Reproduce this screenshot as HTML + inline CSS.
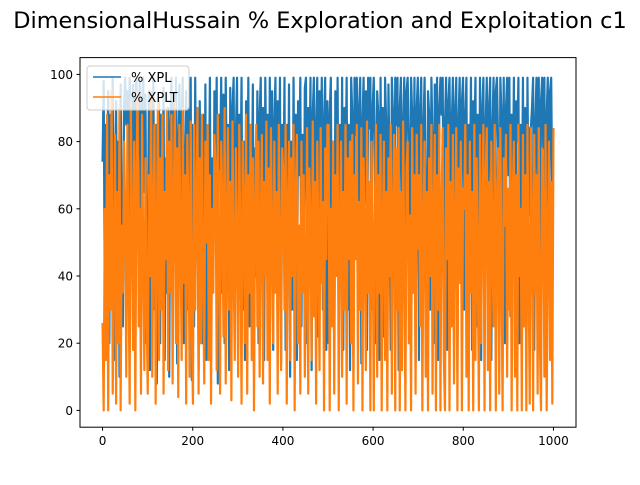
<!DOCTYPE html>
<html><head><meta charset="utf-8"><style>
body{margin:0;background:#fff}
svg text{font-family:"DejaVu Sans","Liberation Sans",sans-serif}
</style></head><body>
<svg id="chart" width="640" height="480" xmlns="http://www.w3.org/2000/svg">
<rect width="640" height="480" fill="#fff"/>
<text x="320" y="28" text-anchor="middle" font-size="22.4">DimensionalHussain % Exploration and Exploitation c1</text>
<g id="series"></g>
<rect x="80" y="57.6" width="496" height="369.6" fill="none" stroke="#000" stroke-width="1"/>
<g id="ticks"></g>
<g>
<rect x="87" y="66" width="102" height="44" rx="3" fill="#fff" fill-opacity="0.8" stroke="#ccc"/>
<line x1="93" y1="77" x2="121" y2="77" stroke="#1f77b4" stroke-width="1.5"/>
<text x="131" y="82" font-size="13">% XPL</text>
<line x1="93" y1="97" x2="121" y2="97" stroke="#ff7f0e" stroke-width="1.5"/>
<text x="131" y="102" font-size="13">% XPLT</text>
</g>
</svg>
<script>
const xTicks=[0,200,400,600,800,1000];
const yTicks=[0,20,40,60,80,100];
const xpl=[74,98,30,85,60,95,20,88,45,99,15,70,92,35,80,10,97,55,25,90,
99,85,95,40,99,88,60,97,18,92,99,70,85,98,30,90,99,65,94,20,
40,95,12,80,60,99,30,85,8,70,92,20,88,50,96,15,75,35,90,10,
85,99,25,92,60,99,14,80,97,45,88,99,20,75,95,30,90,62,99,9,
85,25,99,45,70,12,92,60,20,88,38,97,15,80,55,99,22,75,40,95,
60,99,8,88,72,99,35,94,20,99,65,85,12,96,48,90,99,28,82,99,
18,88,65,99,30,80,15,92,50,99,25,85,60,97,12,78,40,95,20,88,
99,45,90,15,99,70,88,25,99,55,95,18,86,99,38,92,60,99,14,85,
60,99,18,85,45,97,10,80,30,99,55,88,15,92,70,99,25,82,40,96,
99,20,90,65,99,12,88,99,40,84,99,22,95,70,99,30,86,99,18,92,
20,88,99,35,80,15,95,60,99,22,85,45,99,18,90,70,99,30,85,12,
99,88,16,99,82,99,40,90,99,14,86,99,62,95,18,99,84,99,30,90,
99,80,20,95,88,15,99,60,90,22,99,85,30,97,70,18,99,88,40,99,
85,99,12,90,99,60,84,99,18,95,99,80,25,99,88,45,99,14,90,99,
15,90,99,25,85,99,60,18,95,88,30,99,80,20,97,70,99,15,90,99,
88,99,40,85,99,18,92,99,65,84,99,20,90,99,12,86,99,55,92,99,
30,88,99,20,85,60,99,18,92,80,99,25,88,45,99,15,90,99,22,85,
99,62,90,99,15,84,99,30,95,99,80,12,99,88,50,99,20,90,99,70,
99,28,88,60,99,15,92,80,99,20,85,50,99,30,90,15,99,58,84,84,
90,99,18,86,99,65,99,22,92,99,78,99,14,88,99,40,95,99,60,84];
const xplt=[26,0,60,15,88,0,70,30,95,5,45,82,2,65,20,90,0,55,35,80,
60,10,85,40,2,92,55,18,80,0,70,95,25,60,5,88,45,12,75,30,
5,70,40,95,10,60,85,2,50,92,15,75,30,88,5,65,45,90,12,80,
35,88,8,62,92,20,78,4,85,50,15,90,38,70,2,82,58,10,86,25,
2,85,30,60,90,5,75,20,88,40,8,80,50,85,15,70,2,60,35,82,
72,12,88,45,5,80,62,22,90,8,55,84,30,68,3,86,42,15,78,50,
10,85,45,2,80,60,20,88,5,70,35,85,15,75,0,60,85,25,80,10,
55,82,8,68,40,86,15,72,2,84,50,20,80,35,65,5,85,45,12,78,
70,30,85,2,60,80,15,75,40,85,0,65,82,20,55,5,80,35,70,10,
40,84,5,72,55,15,86,28,68,2,80,50,12,84,38,62,0,78,45,85,
85,0,60,25,80,5,70,40,85,0,55,80,10,65,30,85,2,75,45,80,
20,82,0,70,45,85,8,62,30,84,0,75,50,12,86,35,68,0,80,55,
0,60,85,10,70,35,82,0,55,80,15,65,0,75,40,85,5,60,82,0,
78,30,84,0,65,12,86,45,0,72,80,20,58,0,84,35,70,5,82,48,
70,25,85,0,55,80,10,65,0,75,40,85,5,60,82,0,70,30,85,0,
62,84,15,0,78,45,85,0,68,25,82,8,55,84,0,72,38,80,0,66,
60,85,10,70,0,80,35,65,0,85,15,75,45,0,82,20,60,85,0,70,
84,12,68,0,80,50,25,85,0,62,78,5,84,40,0,75,55,82,10,66,
30,85,0,65,80,10,70,0,85,40,60,0,82,25,70,0,85,40,2,84,
58,0,82,35,70,5,84,20,0,78,62,10,85,0,45,80,15,68,2,84];
const xMax=1000;
const NS='http://www.w3.org/2000/svg';
const X=v=>80+(v+50)/1100*496;
const Y=v=>427.2-(v+5)/110*369.6;
const sg=document.getElementById('series');
function draw(arr,color,name){
  const p=document.createElementNS(NS,'polyline');
  const n=arr.length;
  p.setAttribute('points',arr.map((v,i)=>X(i*xMax/(n-1)).toFixed(2)+','+Y(v).toFixed(2)).join(' '));
  p.setAttribute('fill','none');p.setAttribute('stroke',color);p.setAttribute('stroke-width','2.2');
  p.setAttribute('stroke-linejoin','round');
  
  
  sg.appendChild(p);
}
draw(xpl,'#1f77b4','xpl-line');
draw(xplt,'#ff7f0e','xplt-line');
const tg=document.getElementById('ticks');
xTicks.forEach(t=>{
  const l=document.createElementNS(NS,'line');
  l.setAttribute('x1',X(t));l.setAttribute('x2',X(t));l.setAttribute('y1',427.2);l.setAttribute('y2',430.7);l.setAttribute('stroke','#000');
  
  
  tg.appendChild(l);
  const tx=document.createElementNS(NS,'text');
  tx.setAttribute('x',X(t));tx.setAttribute('y',445);tx.setAttribute('text-anchor','middle');tx.setAttribute('font-size','12');tx.textContent=t;
  
  
  tg.appendChild(tx);
});
yTicks.forEach(t=>{
  const l=document.createElementNS(NS,'line');
  l.setAttribute('x1',76.5);l.setAttribute('x2',80);l.setAttribute('y1',Y(t));l.setAttribute('y2',Y(t));l.setAttribute('stroke','#000');
  
  
  tg.appendChild(l);
  const tx=document.createElementNS(NS,'text');
  tx.setAttribute('x',73);tx.setAttribute('y',Y(t)+4.5);tx.setAttribute('text-anchor','end');tx.setAttribute('font-size','12');tx.textContent=t;
  
  
  tg.appendChild(tx);
});
</script>
</body></html>
